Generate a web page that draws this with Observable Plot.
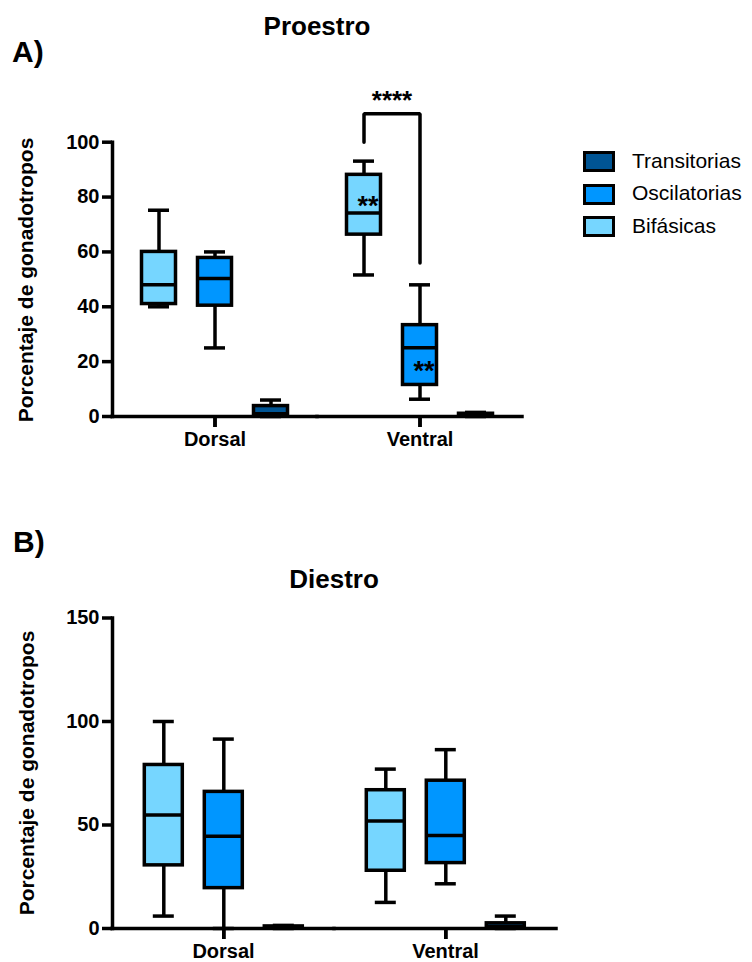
<!DOCTYPE html>
<html><head><meta charset="utf-8">
<script src="https://cdn.jsdelivr.net/npm/d3@7"></script>
<script src="https://cdn.jsdelivr.net/npm/@observablehq/plot@0.6"></script>
<style>
body{margin:0;background:#fff;}
#page{position:relative;width:752px;height:962px;font-family:'Liberation Sans',Arial,sans-serif;color:#000;overflow:hidden}
.abs{position:absolute;white-space:nowrap;line-height:1}
.b{font-weight:bold}
.ylab{position:absolute;font-weight:bold;font-size:21px;line-height:1;white-space:nowrap;transform:translate(-50%,-50%) rotate(-90deg);}
.svgbox{position:absolute;left:0}
</style></head><body><div id="page"></div>
<script>
const regions = ["Dorsal", "Ventral"];
const series = ["Bifásicas", "Oscilatorias", "Transitorias"];
const legendOrder = ["Transitorias", "Oscilatorias", "Bifásicas"];
const seriesColors = ["#76D6FF", "#0096FF", "#005493"];
// order: Dorsal (Bif, Osc, Trans), Ventral (Bif, Osc, Trans)
const proMin = [40, 25, 0, 51.6, 6.3, 0];
const proQ1  = [41, 40.4, 0, 66.3, 11.5, 0];
const proMed = [48, 50.3, 1, 74.2, 25.1, 0.5];
const proQ3  = [60, 57.8, 3.8, 88.1, 33.3, 1];
const proMax = [75.2, 60, 6, 93.1, 48, 1.5];
const dieMin = [6, 0, 0, 12.6, 21.6, 0];
const dieQ1  = [30.5, 19.5, 0, 27.9, 31.6, 0];
const dieMed = [54.8, 44.6, 0.5, 51.9, 44.9, 1];
const dieQ3  = [79, 66, 1, 66.8, 71.4, 2.5];
const dieMax = [100, 91.5, 1.5, 77, 86.4, 6];
const proTicks = [0, 20, 40, 60, 80, 100];
const dieTicks = [0, 50, 100, 150];
// significance annotations (Proestro, Ventral)
const bracketX = ["Bifásicas", "Bifásicas", "Oscilatorias", "Oscilatorias"];
const bracketY = [100, 110.4, 110.4, 56];
const bracketLabel = "****";
const bracketLabelY = 115.2;
const boxStars = ["**", "**"];
const boxStarsX = ["Bifásicas", "Oscilatorias"];
const boxStarsY = [76.6, 16.3];

const SW = 3.5;

function rows(mn, q1, md, q3, mx) {
  return regions.flatMap((r, i) => series.map((s, j) => {
    const k = i * 3 + j;
    return {region: r, series: s, min: mn[k], q1: q1[k], median: md[k], q3: q3[k], max: mx[k]};
  }));
}

function panel({data, yMax, ticks, width, height, margins, pi, po, capInset, extra = []}) {
  return Plot.plot({
    width, height, ...margins,
    style: {fontFamily: "'Liberation Sans', Arial, sans-serif", fontSize: "20px", fontWeight: "bold", color: "#000", background: "transparent", overflow: "visible"},
    fx: {domain: regions, padding: 0, label: null},
    x: {domain: series, paddingInner: pi, paddingOuter: po, label: null},
    y: {domain: [0, yMax]},
    color: {domain: series, range: seriesColors},
    marks: [
      Plot.ruleX(data, {fx: "region", x: "series", y1: "min", y2: "max", strokeWidth: SW}),
      Plot.barY(data, {fx: "region", x: "series", y1: "q1", y2: "q3", fill: "series", stroke: "#000", strokeWidth: SW}),
      Plot.tickY(data, {fx: "region", x: "series", y: "median", strokeWidth: SW}),
      Plot.tickY(data, {fx: "region", x: "series", y: "min", strokeWidth: SW, insetLeft: capInset, insetRight: capInset}),
      Plot.tickY(data, {fx: "region", x: "series", y: "max", strokeWidth: SW, insetLeft: capInset, insetRight: capInset}),
      Plot.ruleY([0], {strokeWidth: SW, strokeLinecap: "square"}),
      Plot.frame({anchor: "left", facet: "super", strokeWidth: SW}),
      Plot.axisX({ticks: [series[1]], tickFormat: () => "", tickSize: 11, stroke: "#000", strokeWidth: SW, label: null}),
      Plot.ruleX(regions, {fx: d => d, x: () => series[1], y1: 0, y2: 0, insetTop: 11, strokeWidth: SW}),
      Plot.axisY({ticks, tickSize: 10, tickPadding: 3, strokeWidth: SW, label: null}),
      Plot.axisFx({anchor: "bottom", tickSize: 0, tickPadding: 15, label: null}),
      ...extra
    ]
  });
}

const page = document.getElementById("page");
function addDiv(cls, text, css) {
  const d = document.createElement("div");
  d.className = cls;
  d.textContent = text;
  Object.assign(d.style, css);
  page.appendChild(d);
  return d;
}

// Panel A
const bracket = bracketX.map((x, i) => ({region: "Ventral", x, y: bracketY[i]}));
const starsData = boxStars.map((t, i) => ({region: "Ventral", x: boxStarsX[i], y: boxStarsY[i], t}));
const plotA = panel({
  data: rows(proMin, proQ1, proMed, proQ3, proMax), yMax: 100, ticks: proTicks,
  width: 560, height: 460,
  margins: {marginLeft: 111.5, marginRight: 38.5, marginTop: 141.7, marginBottom: 44},
  pi: 0.384, po: 0.52, capInset: 6.5,
  extra: [
    Plot.line(bracket, {fx: "region", x: "x", y: "y", strokeWidth: SW, strokeLinecap: "round", strokeLinejoin: "miter"}),
    Plot.text([{region: "Ventral", x: bracketX[0], y: bracketLabelY}], {fx: "region", x: "x", y: "y", text: () => bracketLabel, dx: 28, fontSize: 26, fontWeight: "bold"}),
    Plot.text(starsData, {fx: "region", x: "x", y: "y", text: "t", dx: 4, fontSize: 27, fontWeight: "bold"})
  ]
});
const wrapA = document.createElement("div");
wrapA.className = "svgbox"; wrapA.style.top = "0px";
wrapA.appendChild(plotA);
page.appendChild(wrapA);

// Panel B
const plotB = panel({
  data: rows(dieMin, dieQ1, dieMed, dieQ3, dieMax), yMax: 150, ticks: dieTicks,
  width: 600, height: 442,
  margins: {marginLeft: 111.7, marginRight: 43, marginTop: 97.5, marginBottom: 34},
  pi: 0.361, po: 0.508, capInset: 8.5
});
const wrapB = document.createElement("div");
wrapB.className = "svgbox"; wrapB.style.top = "520px";
wrapB.appendChild(plotB);
page.appendChild(wrapB);

// Titles and labels
addDiv("abs b", "A)", {left: "12px", top: "37px", fontSize: "30px"});
addDiv("abs b", "B)", {left: "13px", top: "527px", fontSize: "30px"});
addDiv("abs b", "Proestro", {left: "317px", top: "13px", fontSize: "26px", transform: "translateX(-50%)"});
addDiv("abs b", "Diestro", {left: "334px", top: "566px", fontSize: "26px", transform: "translateX(-50%)"});
addDiv("ylab", "Porcentaje de gonadotropos", {left: "25px", top: "280px"});
addDiv("ylab", "Porcentaje de gonadotropos", {left: "26px", top: "773px"});

// Legend
legendOrder.forEach((name, i) => {
  const c = seriesColors[series.indexOf(name)];
  addDiv("abs", "", {left: "583px", top: (151 + i * 32.6) + "px", width: "32px", height: "21px", boxSizing: "border-box", border: "3px solid #000", background: c});
  addDiv("abs", name, {left: "632px", top: (149.7 + i * 32.6) + "px", fontSize: "21px"});
});
</script></body></html>
